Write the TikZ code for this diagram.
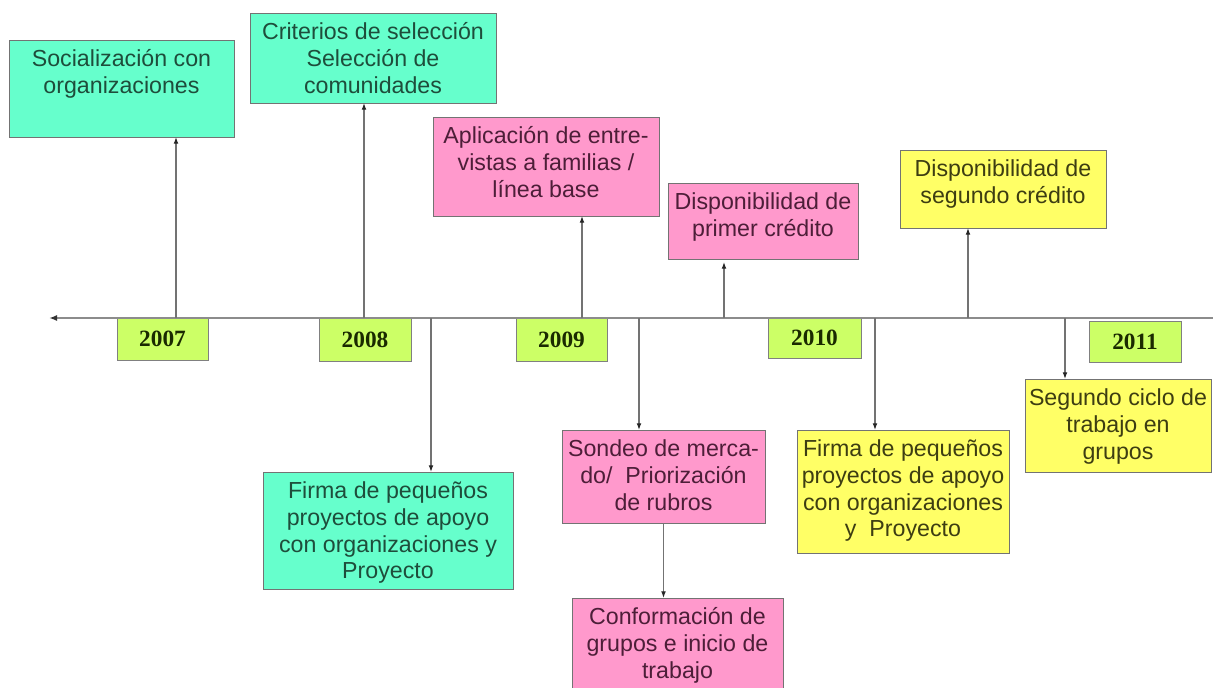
\documentclass[tikz,border=0pt]{standalone}
\usepackage{fontspec}
\setmainfont{Liberation Sans}
\newfontfamily\yearfont{Liberation Serif}
\usetikzlibrary{arrows.meta}
\definecolor{grnfill}{HTML}{66FFCC}
\definecolor{pinkfill}{HTML}{FF99CC}
\definecolor{ylwfill}{HTML}{FFFF66}
\definecolor{yearfill}{HTML}{CCFF66}
\definecolor{grntext}{HTML}{1E4D3B}
\definecolor{pinktext}{HTML}{4D1E38}
\definecolor{ylwtext}{HTML}{3D3D12}
\definecolor{yeartext}{HTML}{1A2A00}
\newcommand\evtext[3]{\begin{minipage}[t][#2][t]{#1}\centering\rule{0pt}{20.2pt}#3\end{minipage}}
\tikzset{
  evbox/.style={draw=black!55, line width=0.7pt, inner sep=0pt, outer sep=0pt, anchor=north west,
    font=\fontsize{17.4}{20}\selectfont},
  grnbox/.style={evbox, fill=grnfill, text=grntext},
  pinkbox/.style={evbox, fill=pinkfill, text=pinktext},
  ylwbox/.style={evbox, fill=ylwfill, text=ylwtext},
  yearbox/.style={draw=black!50, line width=0.7pt, fill=yearfill, text=yeartext, inner sep=0pt,
    outer sep=0pt, anchor=north west, font=\yearfont\bfseries\fontsize{17.5}{20}\selectfont},
  conn/.style={draw=black!55, line width=0.9pt, -{Latex[length=5pt,width=3.6pt,color=black!85]}},
  tline/.style={draw=black!45, line width=1.4pt, -{Latex[length=6pt,width=4.5pt,color=black!80]}}
}
\begin{document}
\begin{tikzpicture}[x=0.75pt,y=-0.75pt]
\fill[white] (0,0) rectangle (1213,688);
\useasboundingbox (0,0) rectangle (1213,688);

% event boxes
\node[grnbox] (soc) at (9,40) {\evtext{168.75pt}{72.75pt}{Socialización con\\organizaciones}};
\node[grnbox] (cri) at (250,13) {\evtext{184.5pt}{67.5pt}{Criterios de selección\\Selección de\\comunidades}};
\node[pinkbox] (apl) at (433,117) {\evtext{169.5pt}{74.25pt}{Aplicación de entre-\\vistas a familias /\\línea base}};
\node[pinkbox] (pri) at (668,183) {\evtext{142.5pt}{57pt}{Disponibilidad de\\primer crédito}};
\node[ylwbox] (seg) at (900,150) {\evtext{154.5pt}{58.5pt}{Disponibilidad de\\segundo crédito}};
\node[grnbox] (fgr) at (263,472) {\evtext{187.5pt}{87.75pt}{Firma de pequeños\\proyectos de apoyo\\con organizaciones y\\Proyecto}};
\node[pinkbox] (son) at (562,430) {\evtext{152.25pt}{69.75pt}{Sondeo de merca-\\do/~ Priorización\\de rubros}};
\node[pinkbox] (con) at (572,598) {\evtext{158.25pt}{78pt}{Conformación de\\grupos e inicio de\\trabajo}};
\node[ylwbox] (fyl) at (797,430) {\evtext{159pt}{92.25pt}{Firma de pequeños\\proyectos de apoyo\\con organizaciones\\y~ Proyecto}};
\node[ylwbox] (cic) at (1025,379) {\evtext{139.5pt}{69.75pt}{Segundo ciclo de\\trabajo en\\grupos}};

% year boxes
\node[yearbox, minimum width=68.25pt, minimum height=32.25pt] (y07) at (117,317) {2007};
\node[yearbox, minimum width=69pt, minimum height=32.25pt] (y08) at (319,318) {2008};
\node[yearbox, minimum width=68.25pt, minimum height=32.25pt] (y09) at (516,318) {2009};
\node[yearbox, minimum width=69.75pt, minimum height=30pt] (y10) at (768,318) {2010};
\node[yearbox, minimum width=69pt, minimum height=30.75pt] (y11) at (1089,321) {2011};

% timeline
\coordinate (tr) at (1216,318);
\coordinate (tl) at (49,318);
\draw[tline] (tr) -- (tl);

% connector roots on the timeline
\coordinate (c1) at (176,318);
\coordinate (c2) at (364,318);
\coordinate (c3) at (431,318);
\coordinate (c4) at (582,318);
\coordinate (c5) at (639,318);
\coordinate (c6) at (724,318);
\coordinate (c7) at (875,318);
\coordinate (c8) at (968,318);
\coordinate (c9) at (1065,318);

\draw[conn] (c1) -- (c1 |- soc.south);
\draw[conn] (c2) -- (c2 |- cri.south);
\draw[conn] (c3) -- (c3 |- fgr.north);
\draw[conn] (c4) -- (c4 |- apl.south);
\draw[conn] (c5) -- (c5 |- son.north);
\draw[conn, shorten >=2.25pt] (c6) -- (c6 |- pri.south);
\draw[conn] (c7) -- (c7 |- fyl.north);
\draw[conn] (c8) -- (c8 |- seg.south);
\draw[conn] (c9) -- (c9 |- cic.north);
\draw[conn] (son.south) -- (son.south |- con.north);
\end{tikzpicture}
\end{document}
